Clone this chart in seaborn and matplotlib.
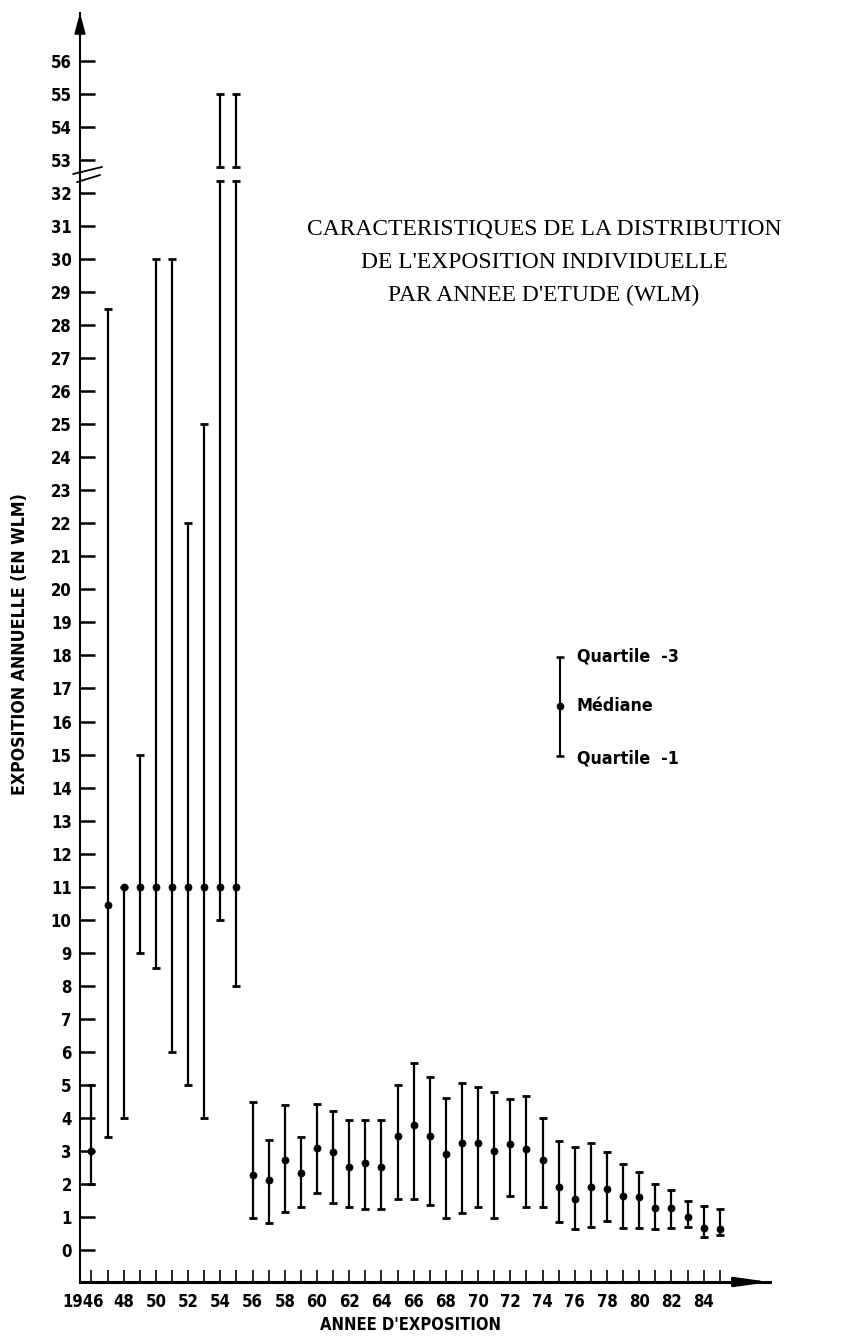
import numpy as np
import matplotlib
matplotlib.use("Agg")
import matplotlib.pyplot as plt
from matplotlib.transforms import ScaledTranslation
import seaborn as sns
import pandas as pd

# ---------------- data ----------------
years = list(range(1946, 1986))
median = [3.0, 10.45, 11.0, 11.0, 11.0, 11.0, 11.0, 11.0, 11.0, 11.0,
          2.27, 2.12, 2.72, 2.32, 3.10, 2.98, 2.50, 2.62, 2.50, 3.45,
          3.78, 3.45, 2.91, 3.23, 3.23, 3.01, 3.21, 3.06, 2.72, 1.92,
          1.53, 1.90, 1.84, 1.63, 1.60, 1.28, 1.28, 1.01, 0.66, 0.63]
q1 = [2.0, 3.43, 4.0, 9.0, 8.53, 6.0, 5.0, 4.0, 10.0, 8.0,
      0.98, 0.83, 1.16, 1.31, 1.72, 1.41, 1.29, 1.23, 1.23, 1.53,
      1.55, 1.36, 0.96, 1.13, 1.29, 0.98, 1.63, 1.29, 1.29, 0.86,
      0.63, 0.69, 0.89, 0.66, 0.66, 0.63, 0.66, 0.71, 0.40, 0.45]
q3 = [5.0, 28.5, 11.0, 15.0, 30.0, 30.0, 22.0, 25.0, 55.0, 55.0,
      4.49, 3.33, 4.39, 3.43, 4.42, 4.22, 3.94, 3.94, 3.94, 5.0,
      5.65, 5.23, 4.59, 5.05, 4.93, 4.77, 4.57, 4.67, 3.99, 3.31,
      3.13, 3.25, 2.98, 2.60, 2.35, 2.0, 1.82, 1.49, 1.33, 1.23]
ytick_values = list(range(0, 33)) + [53, 54, 55, 56]
xtick_labels = ["1946" if y == 1946 else (f"{y % 100:02d}" if y % 2 == 0 else "") for y in years]

title_lines = ["CARACTERISTIQUES DE LA DISTRIBUTION",
               "DE L'EXPOSITION INDIVIDUELLE",
               "PAR ANNEE D'ETUDE (WLM)"]
legend_labels = ["Quartile  -3", "Médiane", "Quartile  -1"]

df = pd.DataFrame({"year": years, "median": median, "q1": q1, "q3": q3})

# ---------------- style ----------------
sns.set_style("ticks")
plt.rcParams["font.family"] = ["DejaVu Sans"]
for k in ["text.color", "axes.labelcolor", "xtick.color", "ytick.color", "axes.edgecolor"]:
    plt.rcParams[k] = "black"
LAB = dict(family=["DejaVu Sans"], weight="bold", stretch="condensed", color="black")

# broken axis: 32.4 .. 52.8 squeezed to 0.4 unit
LO, HI = 32.4, 52.8
SQ = 0.4
def fwd(v):
    v = np.asarray(v, dtype=float)
    return np.where(v <= LO, v,
                    np.where(v >= HI, v - (HI - LO) + SQ,
                             LO + (v - LO) * SQ / (HI - LO)))
def inv(p):
    p = np.asarray(p, dtype=float)
    return np.where(p <= LO, p,
                    np.where(p >= LO + SQ, p + (HI - LO) - SQ,
                             LO + (p - LO) * (HI - LO) / SQ))
BREAK_LO, BREAK_HI = 32.35, 52.8

fig = plt.figure(figsize=(8.58, 13.37), dpi=100)
ax = fig.add_axes([80 / 858, 55 / 1337, 690 / 858, 1269 / 1337])
ax.set_yscale("function", functions=(fwd, inv))

x = df["year"].to_numpy()
med = df["median"].to_numpy()
lo = df["q1"].to_numpy()
hi = df["q3"].to_numpy()

ebkw = dict(fmt="none", ecolor="black", elinewidth=1.6, capsize=3.0, capthick=2.0, zorder=3)
top_lower = np.minimum(hi, BREAK_LO)
ax.errorbar(x, med, yerr=[med - lo, top_lower - med], **ebkw)
m = hi > BREAK_HI
ax.errorbar(x[m], hi[m], yerr=[hi[m] - BREAK_HI, np.zeros(m.sum())], **ebkw)

sns.scatterplot(data=df, x="year", y="median", ax=ax, color="black", s=26,
                edgecolor="black", linewidth=0.5, zorder=4, legend=False)

ax.set_xlim(1945.29, 1988.12)
ax.set_ylim(-0.969, 57.45)
ax.set_yticks(ytick_values)
ax.set_yticklabels([str(v) for v in ytick_values])
ax.set_xticks(years)
ax.set_xticklabels(xtick_labels)
ax.minorticks_off()
ax.tick_params(axis="y", direction="in", length=11, width=1.8, pad=6, labelsize=12)
ax.tick_params(axis="x", direction="in", length=9, width=1.2, pad=8, labelsize=12)
for lab in ax.get_xticklabels() + ax.get_yticklabels():
    lab.set_fontweight("bold")
    lab.set_fontstretch("condensed")
    lab.set_color("black")
# the first year label sits a little to the left of its tick
first = ax.get_xticklabels()[0]
first.set_transform(first.get_transform() + ScaledTranslation(-8 / 100, 0, fig.dpi_scale_trans))
ax.set_xlabel("")
ax.set_ylabel("")
sns.despine(ax=ax)
ax.spines["left"].set_linewidth(1.5)
ax.spines["bottom"].set_linewidth(2.2)

# arrows at axis ends
ax.annotate("", xy=(0, 1.0), xytext=(0, 0.985), xycoords="axes fraction",
            arrowprops=dict(arrowstyle="-|>,head_length=1.1,head_width=0.3",
                            color="black", lw=1.5, mutation_scale=11, shrinkA=0, shrinkB=0))
ax.annotate("", xy=(1.0, 0), xytext=(0.97, 0), xycoords="axes fraction",
            arrowprops=dict(arrowstyle="-|>,head_length=1.8,head_width=0.25",
                            color="black", lw=2.0, mutation_scale=11, shrinkA=0, shrinkB=0))

# break marks on the y axis
for (x0, y0, x1, y1) in [(-0.010, 0.8731, 0.032, 0.8787), (-0.0043, 0.8668, 0.029, 0.8723)]:
    ax.plot([x0, x1], [y0, y1], color="black", lw=1.3, transform=ax.transAxes,
            clip_on=False, zorder=5)

# key (legend drawn by hand)
kx = (560 - 80) / 690
ky_top, ky_mid, ky_bot = 0.4928, 0.4539, 0.4145
ax.errorbar([kx], [ky_mid], yerr=[[ky_mid - ky_bot], [ky_top - ky_mid]],
            transform=ax.transAxes, fmt="o", color="black", ms=4.5,
            elinewidth=1.5, capsize=3.0, capthick=1.8, clip_on=False)
tx = (577 - 80) / 690
for lab, yy in zip(legend_labels, [ky_top, ky_mid, ky_bot - 0.002]):
    ax.text(tx, yy, lab, transform=ax.transAxes, ha="left", va="center",
            fontsize=12.8, **LAB)

# title
for line, ypix in zip(title_lines, [229.5, 262.5, 295.5]):
    fig.text(544 / 858, 1 - ypix / 1337, line, ha="center", va="center",
             fontsize=16.9, color="black", family=["Liberation Serif", "DejaVu Serif"])

# axis labels
fig.text(20 / 858, 1 - 644 / 1337, "EXPOSITION ANNUELLE (EN WLM)", rotation=90,
         ha="center", va="center", fontsize=12.7, **LAB)
fig.text(410 / 858, 1 - 1325 / 1337, "ANNEE D'EXPOSITION", ha="center", va="center",
         fontsize=11.9, **LAB)

fig.savefig("out.png", dpi=100, facecolor="white")
